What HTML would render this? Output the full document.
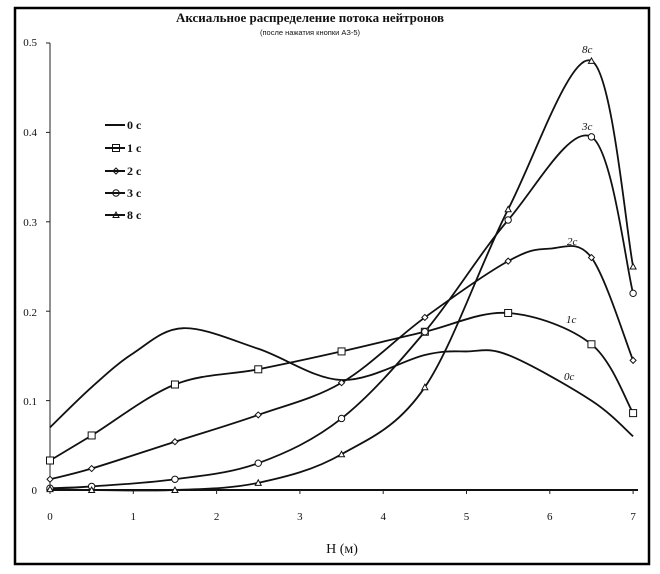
<!DOCTYPE html>
<html><head><meta charset="utf-8"><style>
html,body{margin:0;padding:0;background:#fff;}
svg{display:block}
text{font-family:"Liberation Serif",serif;fill:#111}
</style></head><body>
<svg id="s" width="660" height="574" xmlns="http://www.w3.org/2000/svg">
<rect x="15" y="8" width="634" height="556" fill="none" stroke="#000" stroke-width="2.5"/>
<text x="310" y="22" text-anchor="middle" font-size="13" font-weight="bold">Аксиальное распределение потока нейтронов</text>
<text x="310" y="35" text-anchor="middle" font-size="7.5" style="font-family:'Liberation Sans',sans-serif">(после нажатия кнопки АЗ-5)</text>
<line x1="50" y1="43" x2="50" y2="490" stroke="#222" stroke-width="1"/>
<line x1="50" y1="490" x2="638" y2="490" stroke="#111" stroke-width="2"/>
<g font-size="11" text-anchor="end">
<text x="37" y="494">0</text><text x="37" y="405">0.1</text><text x="37" y="316">0.2</text><text x="37" y="226">0.3</text><text x="37" y="136">0.4</text><text x="37" y="46">0.5</text>
</g>
<g id="ticks" stroke="#222"></g>
<g font-size="11" text-anchor="middle" id="xl"></g>
<text x="342" y="553" text-anchor="middle" font-size="14">H (м)</text>
<g id="curves" fill="none" stroke="#111" stroke-width="1.8"></g>
<g id="marks" fill="#fff" stroke="#111" stroke-width="1"></g>
<g font-size="11" font-style="italic">
<text x="582" y="53">8c</text><text x="582" y="130">3c</text><text x="567" y="245">2c</text><text x="566" y="323">1c</text><text x="564" y="380">0c</text>
</g>
<g id="leg" font-size="12" font-weight="bold"></g>
</svg>
<script>
var NS="http://www.w3.org/2000/svg";
function X(h){return 50+83.3*h}function Y(v){return 490-894*v}
function el(t,a,p){var e=document.createElementNS(NS,t);for(var k in a)e.setAttribute(k,a[k]);document.getElementById(p).appendChild(e);return e}
for(var i=0;i<=7;i++){el('line',{x1:X(i),y1:490,x2:X(i),y2:494},'ticks');var t=el('text',{x:X(i),y:520},'xl');t.textContent=i;}
for(var j=0;j<=5;j++){el('line',{x1:46,y1:Y(j/10),x2:50,y2:Y(j/10)},'ticks');}
var D={
c0:[[0,.07],[.5,.115],[1,.153],[1.6,.181],[2.5,.158],[3.5,.123],[4.5,.151],[5,.155],[5.5,.151],[6.5,.1],[7,.06]],
c1:[[0,.033],[.5,.061],[1.5,.118],[2.5,.135],[3.5,.155],[4.5,.177],[5.5,.198],[6.5,.163],[7,.086]],
c2:[[0,.012],[.5,.024],[1.5,.054],[2.5,.084],[3.5,.12],[4.5,.193],[5.5,.256],[6,.27],[6.5,.26],[7,.145]],
c3:[[0,.002],[.5,.004],[1.5,.012],[2.5,.03],[3.5,.08],[4.5,.177],[5.5,.302],[6.5,.395],[7,.22]],
c8:[[0,.001],[.5,0],[1.5,0],[2.5,.008],[3.5,.04],[4.5,.115],[5.5,.314],[6.5,.48],[7,.25]]};
function path(pts){var p=pts.map(function(a){return[X(a[0]),Y(a[1])]});var d="M"+p[0];for(var i=0;i<p.length-1;i++){var p0=p[i-1]||p[i],p1=p[i],p2=p[i+1],p3=p[i+2]||p2;var c1=[p1[0]+(p2[0]-p0[0])/6,p1[1]+(p2[1]-p0[1])/6],c2=[p2[0]-(p3[0]-p1[0])/6,p2[1]-(p3[1]-p1[1])/6];d+="C"+c1+" "+c2+" "+p2;}return d}
for(var k in D)el('path',{d:path(D[k])},'curves');
function mark(type,x,y){
if(type=='sq')el('rect',{x:x-3.5,y:y-3.5,width:7,height:7},'marks');
else if(type=='di')el('path',{d:'M'+(x-3)+','+y+'L'+x+','+(y-3)+'L'+(x+3)+','+y+'L'+x+','+(y+3)+'Z'},'marks');
else if(type=='ci')el('circle',{cx:x,cy:y,r:3.2},'marks');
else if(type=='tr')el('path',{d:'M'+(x-3)+','+(y+2.5)+'L'+x+','+(y-3)+'L'+(x+3)+','+(y+2.5)+'Z'},'marks');}
var M={c1:'sq',c2:'di',c3:'ci',c8:'tr'};
for(var k in M)D[k].forEach(function(a){if(k=='c2'&&a[0]==6)return;mark(M[k],X(a[0]),Y(a[1]))});
var L=[['0 c',null],['1 c','sq'],['2 c','di'],['3 c','ci'],['8 c','tr']],LY=[125,148,171,193,215];
L.forEach(function(l,i){el('line',{x1:105,y1:LY[i],x2:125,y2:LY[i],stroke:'#111','stroke-width':2},'leg');if(l[1]){mark(l[1],116,LY[i]);}var t=el('text',{x:127,y:LY[i]+4},'leg');t.textContent=l[0];});
</script>
</body></html>
